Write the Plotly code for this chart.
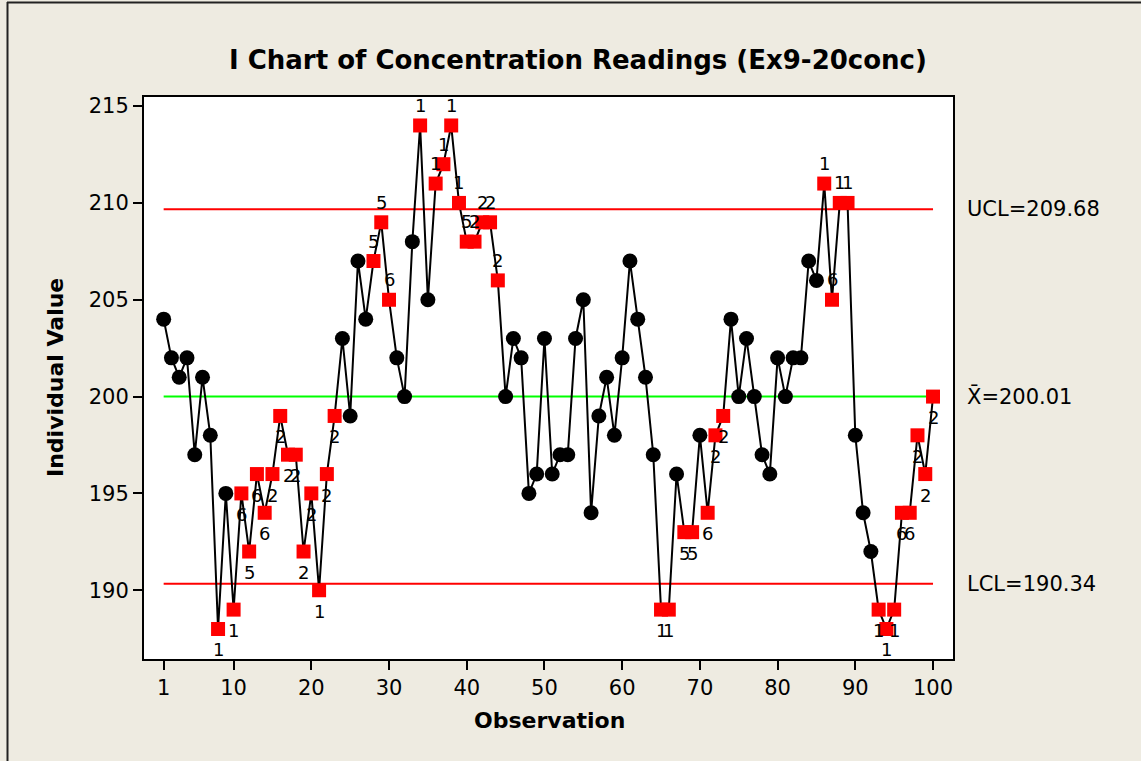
import plotly.graph_objects as go

# ---- data -------------------------------------------------------------
observation = list(range(1, 101))
concentration = [
    204, 202, 201, 202, 197, 201, 198, 188, 195, 189,
    195, 192, 196, 194, 196, 199, 197, 197, 192, 195,
    190, 196, 199, 203, 199, 207, 204, 207, 209, 205,
    202, 200, 208, 214, 205, 211, 212, 214, 210, 208,
    208, 209, 209, 206, 200, 203, 202, 195, 196, 203,
    196, 197, 197, 203, 205, 194, 199, 201, 198, 202,
    207, 204, 201, 197, 189, 189, 196, 193, 193, 198,
    194, 198, 199, 204, 200, 203, 200, 197, 196, 202,
    200, 202, 202, 207, 206, 211, 205, 210, 210, 198,
    194, 192, 189, 188, 189, 194, 194, 198, 196, 200,
]

# observations that fail a special-cause test, and the test number shown
failed_obs = [8, 10, 11, 12, 13, 14, 15, 16, 17, 18, 19, 20, 21, 22, 23,
              28, 29, 30, 34, 36, 37, 38, 39, 40, 41, 42, 43, 44,
              65, 66, 68, 69, 71, 72, 73,
              86, 87, 88, 89, 93, 94, 95, 96, 97, 98, 99, 100]
failed_test = ["1", "1", "6", "5", "6", "6", "2", "2", "2", "2", "2", "2", "1", "2", "2",
               "5", "5", "6", "1", "1", "1", "1", "1", "5", "2", "2", "2", "2",
               "1", "1", "5", "5", "6", "2", "2",
               "1", "6", "1", "1", "1", "1", "1", "6", "6", "2", "2", "2"]

center_line = 200.01
ucl = 209.68
lcl = 190.34

x_ticks = [1, 10, 20, 30, 40, 50, 60, 70, 80, 90, 100]
y_ticks = [190, 195, 200, 205, 210, 215]

# ---- figure geometry (pixels) ----------------------------------------
W, H = 1141, 761
PL, PR, PT, PB = 144, 953, 97, 659
FONT = "DejaVu Sans"
BG = "#EEEBE1"


def px_x(p):
    return (p - PL) / (PR - PL)


def px_y(p):
    return (PB - p) / (PB - PT)


fig = go.Figure()

# control limits and centre line
for val, col in [(ucl, "#FF0000"), (center_line, "#00FF00"), (lcl, "#FF0000")]:
    fig.add_trace(go.Scatter(
        x=[observation[0], observation[-1]], y=[val, val], mode="lines",
        line=dict(color=col, width=2), hoverinfo="skip", showlegend=False))

# individual values joined by a line
fig.add_trace(go.Scatter(
    x=observation, y=concentration, mode="lines",
    line=dict(color="black", width=2), showlegend=False, hoverinfo="skip"))

ok_x = [o for o in observation if o not in failed_obs]
ok_y = [concentration[o - 1] for o in ok_x]
fig.add_trace(go.Scatter(
    x=ok_x, y=ok_y, mode="markers",
    marker=dict(symbol="circle", size=15, color="black", line=dict(width=0)),
    showlegend=False))

bad_y = [concentration[o - 1] for o in failed_obs]
fig.add_trace(go.Scatter(
    x=failed_obs, y=bad_y, mode="markers",
    marker=dict(symbol="square", size=14, color="#FF0000", line=dict(width=0)),
    showlegend=False))

annotations = []
# test numbers: above points over the centre line, below the rest
for o, t in zip(failed_obs, failed_test):
    v = concentration[o - 1]
    annotations.append(dict(
        x=o, y=v, xref="x", yref="y", text=t, showarrow=False,
        xanchor="center", yanchor="middle",
        yshift=20 if v > center_line else -21,
        font=dict(family=FONT, size=18, color="black")))

# limit labels on the right
for val, txt in [(ucl, "UCL=%.2f" % ucl),
                 (center_line, "X\u0304=%.2f" % center_line),
                 (lcl, "LCL=%.2f" % lcl)]:
    annotations.append(dict(
        x=px_x(965), y=val, xref="paper", yref="y", text=txt, showarrow=False,
        xanchor="left", yanchor="middle",
        font=dict(family=FONT, size=21, color="black")))

# title and axis titles
annotations.append(dict(
    x=px_x(578), y=px_y(60), xref="paper", yref="paper",
    text="<b>I Chart of Concentration Readings (Ex9-20conc)</b>",
    showarrow=False, xanchor="center", yanchor="middle",
    font=dict(family=FONT, size=26, color="black")))
annotations.append(dict(
    x=px_x(549), y=px_y(720), xref="paper", yref="paper",
    text="<b>Observation</b>", showarrow=False,
    xanchor="center", yanchor="middle",
    font=dict(family=FONT, size=22, color="black")))
annotations.append(dict(
    x=px_x(55), y=px_y(378), xref="paper", yref="paper",
    text="<b>Individual Value</b>", showarrow=False, textangle=-90,
    xanchor="center", yanchor="middle",
    font=dict(family=FONT, size=22, color="black")))

# window frame edges
shapes = [
    dict(type="line", xref="paper", yref="paper",
         x0=px_x(7), x1=px_x(W + 5), y0=px_y(2.5), y1=px_y(2.5),
         line=dict(color="#222222", width=2)),
    dict(type="line", xref="paper", yref="paper",
         x0=px_x(7.5), x1=px_x(7.5), y0=px_y(2), y1=px_y(H + 5),
         line=dict(color="#222222", width=2)),
]

axis_common = dict(
    showline=True, mirror=True, linecolor="black", linewidth=2,
    ticks="outside", ticklen=9, tickwidth=2, tickcolor="black",
    showgrid=False, zeroline=False,
    tickfont=dict(family=FONT, size=21, color="black"),
)

fig.update_layout(
    width=W, height=H,
    margin=dict(l=PL, r=W - PR, t=PT, b=H - PB, pad=0),
    paper_bgcolor=BG, plot_bgcolor="white",
    showlegend=False,
    xaxis=dict(range=[-1.53, 102.57], tickvals=x_ticks, **axis_common),
    yaxis=dict(range=[186.45, 215.47], tickvals=y_ticks, **axis_common),
    annotations=annotations,
    shapes=shapes,
)

fig.write_html("out.html")
